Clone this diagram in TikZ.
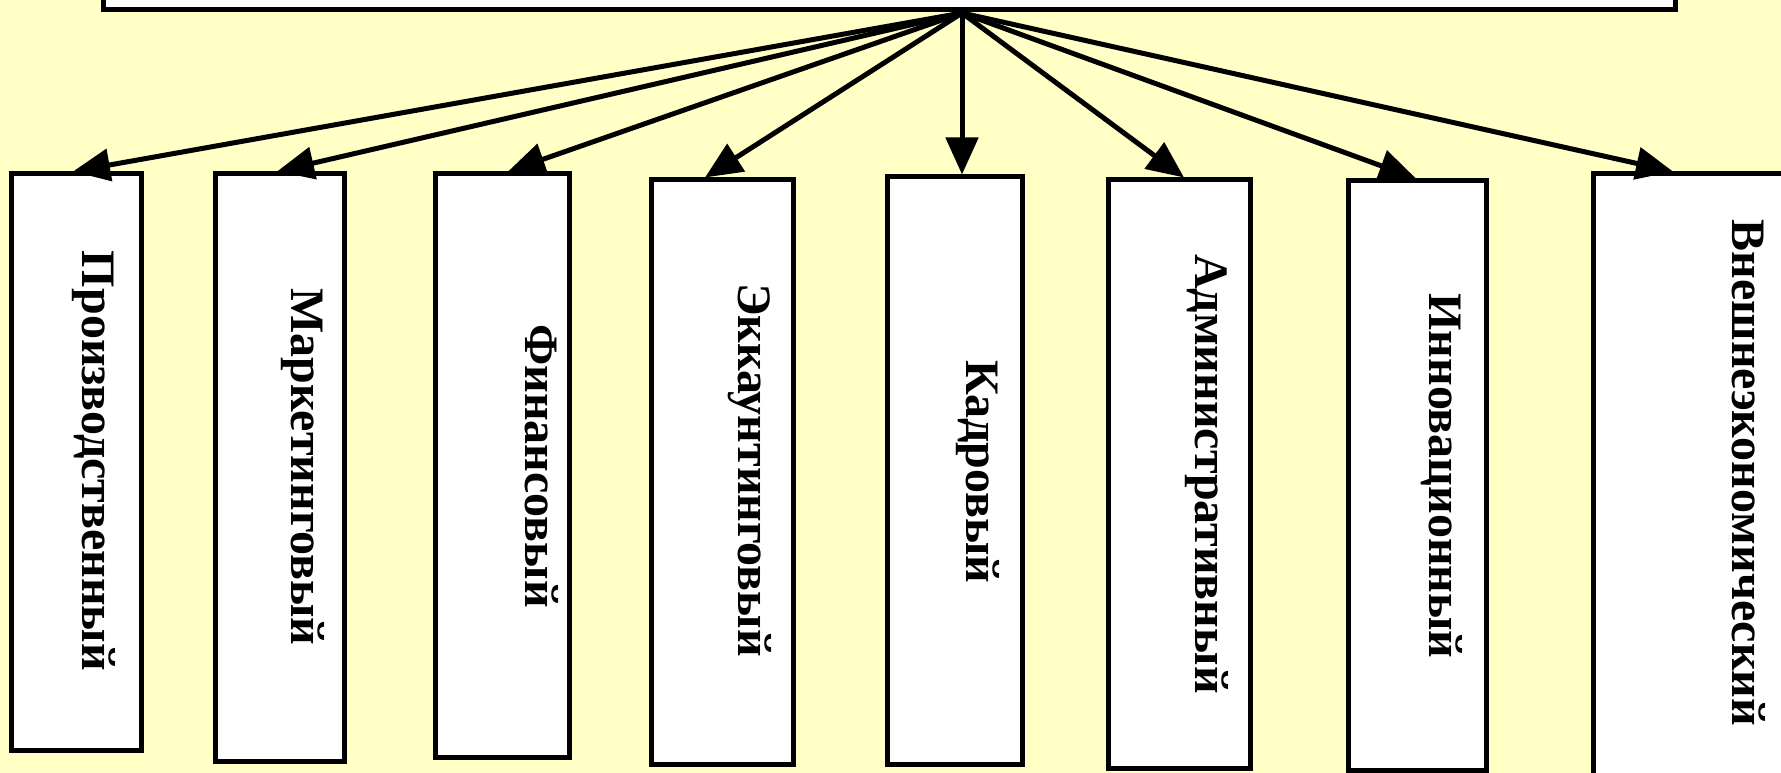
\documentclass[tikz,border=0pt]{standalone}
\usepackage{fontspec}
\setmainfont{Liberation Serif}
\usetikzlibrary{arrows.meta}
\definecolor{bgyellow}{HTML}{FFFFC6}
\begin{document}
\begin{tikzpicture}[x=1pt,y=-1pt,
  boxnode/.style={draw=black, fill=white, line width=5pt, inner sep=0pt, rectangle},
  lbl/.style={font=\bfseries\fontsize{48}{58}\selectfont, rotate=-90, anchor=base, inner sep=0pt},
  arr/.style={line width=5pt, -{Triangle[length=37pt,width=32pt]}}]
\useasboundingbox (0,0) rectangle (1781,773);
\fill[bgyellow] (0,0) rectangle (1781,773);
\begin{scope}
\clip (0,0) rectangle (1781,773);
% top box
\node[boxnode, minimum width=1572pt, minimum height=120pt, anchor=south west] (top) at (101,12) {};
\coordinate (P) at (962,13);
% boxes
\node[boxnode, minimum width=130pt, minimum height=576pt] (b1) at (76,462) {};
\node[boxnode, minimum width=129pt, minimum height=587pt] (b2) at (279.5,467.5) {};
\node[boxnode, minimum width=134pt, minimum height=583pt] (b3) at (502,465.5) {};
\node[boxnode, minimum width=142pt, minimum height=584pt] (b4) at (722,472) {};
\node[boxnode, minimum width=135pt, minimum height=587pt] (b5) at (954.5,470.5) {};
\node[boxnode, minimum width=142pt, minimum height=588pt] (b6) at (1179,474) {};
\node[boxnode, minimum width=138pt, minimum height=589pt] (b7) at (1417,475.5) {};
\node[boxnode, minimum width=220pt, minimum height=602pt] (b8) at (1703,475) {};
% labels
\node[lbl] (t1) at (82,461) {Производственный};
\node[lbl] (t2) at (291,467) {Маркетинговый};
\node[lbl] (t3) at (525,466) {Финансовый};
\node[lbl] (t4) at (738,470) {Эккаунтинговый};
\node[lbl] (t5) at (966,472) {Кадровый};
\node[lbl] (t6) at (1195,474) {Административный};
\node[lbl] (t7) at (1429,476) {Инновационный};
\node[lbl] (t8) at (1732,473) {Внешнеэкономический};
% arrows
\draw[arr] (P) -- ([xshift=-3pt]b1.north);
\draw[arr] (P) -- ([xshift=-2.5pt]b2.north);
\draw[arr] (P) -- ([xshift=6pt]b3.north);
\draw[arr] (P) -- ([xshift=-17pt]b4.north);
\draw[arr] (P) -- ([xshift=7.5pt]b5.north);
\draw[arr] (P) -- ([xshift=5pt]b6.north);
\draw[arr] (P) -- ([xshift=-1pt]b7.north);
\draw[arr] (P) -- ([xshift=-30pt]b8.north);
\end{scope}
\end{tikzpicture}
\end{document}
